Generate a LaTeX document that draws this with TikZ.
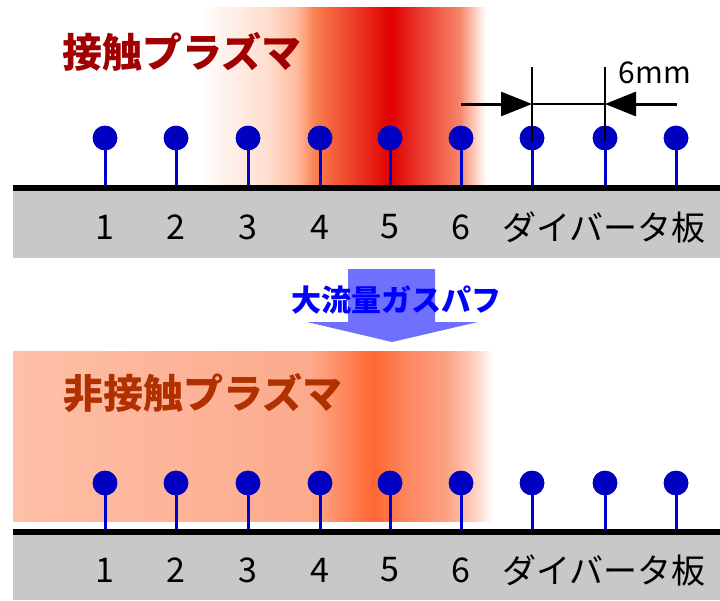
\documentclass[tikz,border=0pt]{standalone}
\usepackage{fontspec}
\setmainfont{Noto Sans CJK JP}
\usetikzlibrary{arrows.meta}
\definecolor{tw}{HTML}{FFFFFF}
\definecolor{tp1}{HTML}{FFDCCC}
\definecolor{tp2}{HTML}{FFB89A}
\definecolor{tp3}{HTML}{FA8050}
\definecolor{tp4}{HTML}{E00000}
\definecolor{tp5}{HTML}{F7856A}
\definecolor{tp6}{HTML}{FFE8E0}
\definecolor{bp1}{HTML}{FEC0A8}
\definecolor{bp2}{HTML}{FCAA8C}
\definecolor{bp3}{HTML}{FE9670}
\definecolor{bp4}{HTML}{FF6633}
\definecolor{bp5}{HTML}{FC855C}
\definecolor{bp6}{HTML}{FCA082}
\definecolor{bp7}{HTML}{FFD0C0}
\definecolor{plate}{HTML}{C8C8C8}
\definecolor{probec}{HTML}{0000C0}
\definecolor{stemc}{HTML}{0000CC}
\definecolor{titlered}{HTML}{A00000}
\definecolor{titleorange}{HTML}{B03000}
\definecolor{gasblue}{HTML}{0000FF}
\definecolor{arrowblue}{HTML}{7070FF}
\pgfdeclarehorizontalshading{topgrad}{100bp}{color(0bp)=(tw); color(25bp)=(tw); color(37.2bp)=(tp1); color(42.1bp)=(tp2); color(45bp)=(tp3); color(58.2bp)=(tp4); color(70.4bp)=(tp5); color(74bp)=(tp6); color(75bp)=(tw); color(100bp)=(tw)}
\pgfdeclarehorizontalshading{botgrad}{100bp}{color(0bp)=(bp1); color(25bp)=(bp1); color(55.9bp)=(bp2); color(58bp)=(bp3); color(62.5bp)=(bp4); color(65.8bp)=(bp5); color(70bp)=(bp6); color(73.1bp)=(bp7); color(75bp)=(tw); color(100bp)=(tw)}
\tikzset{
  probe/.style={circle, fill=probec, draw=none, inner sep=0pt, minimum size=24.6pt},
  stem/.style={draw=stemc, line width=3pt},
  num/.style={font=\fontsize{34}{34}\selectfont, text=black, inner sep=0pt},
  bigtitle/.style={font=\fontsize{40}{40}\selectfont\bfseries, inner sep=0pt},
  gastext/.style={font=\fontsize{30}{30}\selectfont\bfseries, text=gasblue, inner sep=0pt},
  dimv/.style={draw=black, line width=1.5pt},
  dimarr/.style={draw=black, line width=3pt, -{Triangle[length=31pt,width=24pt]}},
  plateline/.style={draw=black, line width=6pt},
}
\begin{document}
\begin{tikzpicture}[x=1pt,y=-1pt]
\useasboundingbox (0,0) rectangle (720,600);
% plasma regions
\shade[shading=topgrad] (200,7) rectangle (486,185);
\shade[shading=botgrad] (13,351) rectangle (493,521);
% plates
\fill[plate] (13,188) rectangle (720,258);
\fill[plate] (13,532) rectangle (720,600);
\coordinate (L1a) at (13,188); \coordinate (L1b) at (720,188);
\coordinate (L2a) at (13,532); \coordinate (L2b) at (720,532);
\draw[plateline] (L1a) -- (L1b);
\draw[plateline] (L2a) -- (L2b);
% probes
\foreach \i/\x in {1/105,2/176,3/248,4/320,5/390,6/461,7/532,8/605,9/676}{
  \coordinate (ba\i) at (\x,186);
  \coordinate (bb\i) at (\x,530);
  \node[probe] (pa\i) at (\x,138) {};
  \node[probe] (pb\i) at (\x,483) {};
  \draw[stem] (ba\i) -- (pa\i.center);
  \draw[stem] (bb\i) -- (pb\i.center);
  \node[probe] at (pa\i) {};
  \node[probe] at (pb\i) {};
}
% labels
\foreach \i/\x in {1/105,2/176,3/248,4/320,5/390,6/461}{
  \node[num] (na\i) at (\x,227) {\i};
  \node[num] (nb\i) at (\x,570) {\i};
}
\node[num] (dva) at (604,227) {ダイバータ板};
\node[num] (dvb) at (604,570) {ダイバータ板};
% titles
\node[bigtitle, text=titlered] (t1) at (182,52) {接触プラズマ};
\node[bigtitle, text=titleorange] (t2) at (203,393) {非接触プラズマ};
% 6mm dimension
\coordinate (d1t) at (532,67); \coordinate (d1b) at (532,142);
\coordinate (d2t) at (605,67); \coordinate (d2b) at (605,142);
\draw[dimv] (d1t) -- (d1b);
\draw[dimv] (d2t) -- (d2b);
\coordinate (d1m) at (532,104); \coordinate (d2m) at (605,104);
\coordinate (as1) at (461,104); \coordinate (as2) at (677,104);
\draw[dimarr] (as1) -- (d1m);
\draw[dimarr] (as2) -- (d2m);
\draw[draw=black, line width=1.5pt] (d1m) -- (d2m);
\node[font=\fontsize{30}{30}\selectfont, inner sep=0pt] (mm) at (655,73) {6mm};
% gas puff arrow
\fill[arrowblue] (348,269) -- (435,269) -- (435,322) -- (478,322) -- (392,342) -- (307,322) -- (348,322) -- cycle;
\node[gastext] (gas) at (396,300) {大流量ガスパフ};
\end{tikzpicture}
\end{document}
